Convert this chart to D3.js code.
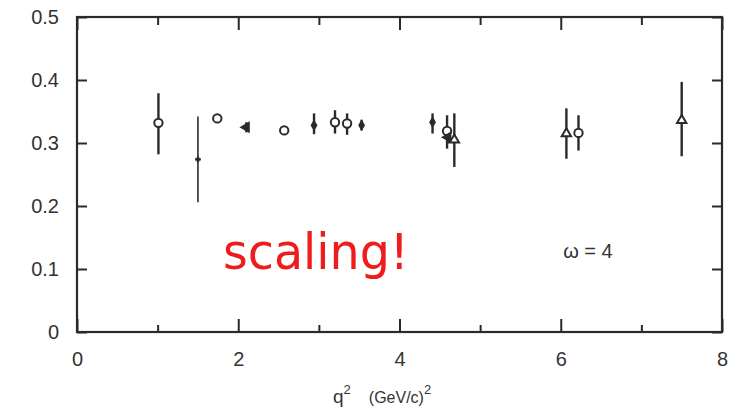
<!DOCTYPE html>
<html>
<head>
<meta charset="utf-8">
<script src="https://cdn.jsdelivr.net/npm/d3@7"></script>
<style>
  body { margin: 0; background: #fff; }
  svg { display: block; }
</style>
</head>
<body>
<div id="chart"></div>
<script>
// data: q^2 (GeV/c)^2 vs ratio, omega = 4
const q2     = [1.01, 1.50, 1.74, 2.10, 2.57, 2.94, 3.20, 3.35, 3.53, 4.41, 4.59, 4.60, 4.68, 6.07, 6.22, 7.50];
const ratio  = [0.332, 0.274, 0.339, 0.325, 0.320, 0.328, 0.333, 0.331, 0.328, 0.333, 0.319, 0.309, 0.305, 0.315, 0.316, 0.336];
const errHi  = [0.379, 0.342, 0.339, 0.333, 0.326, 0.347, 0.352, 0.347, 0.337, 0.347, 0.344, 0.320, 0.347, 0.355, 0.344, 0.397];
const errLo  = [0.282, 0.206, 0.339, 0.317, 0.314, 0.314, 0.315, 0.313, 0.320, 0.315, 0.291, 0.300, 0.262, 0.275, 0.288, 0.279];
const marker = ["circle", "cross", "circle", "filled", "circle", "dot", "circle", "circle", "dot", "dot", "circle", "filled", "triangle", "triangle", "circle", "triangle"];

const xTicks = [0, 2, 4, 6, 8];
const xMinor = [1, 3, 5, 7];
const yTicks = [0, 0.1, 0.2, 0.3, 0.4, 0.5];

function init() {
  const width = 739, height = 415;
  const margin = { top: 17, right: 17, bottom: 83, left: 77 };
  const iw = width - margin.left - margin.right,
        ih = height - margin.top - margin.bottom;

  const svg = d3.select("#chart")
                .append("svg")
                .attr("width", width)
                .attr("height", height)
                .style("font-family", "'Liberation Sans', Arial, sans-serif");

  const g = svg.append("g")
               .attr("transform", `translate(${margin.left},${margin.top})`);

  const x = d3.scaleLinear().domain([0, 8]).range([0, iw]);
  const y = d3.scaleLinear().domain([0, 0.5]).range([ih, 0]);

  const ink = "#2a2a2a";

  // axes, ticks pointing inwards
  const yLabel = d => d === 0 ? "0" : d3.format(".1f")(d);

  const left = g.append("g")
    .call(d3.axisLeft(y).tickValues(yTicks).tickSize(-10).tickPadding(18).tickFormat(yLabel));
  const right = g.append("g").attr("transform", `translate(${iw},0)`)
    .call(d3.axisRight(y).tickValues(yTicks).tickSize(-10).tickFormat(""));
  const bottom = g.append("g").attr("transform", `translate(0,${ih})`)
    .call(d3.axisBottom(x).tickValues(xTicks).tickSize(-13).tickPadding(20).tickFormat(d3.format("d")));
  const bottomMinor = g.append("g").attr("transform", `translate(0,${ih})`)
    .call(d3.axisBottom(x).tickValues(xMinor).tickSize(-7).tickFormat(""));
  const top = g.append("g")
    .call(d3.axisTop(x).tickValues(xTicks).tickSize(-13).tickFormat(""));
  const topMinor = g.append("g")
    .call(d3.axisTop(x).tickValues(xMinor).tickSize(-8).tickFormat(""));

  [left, right, bottom, bottomMinor, top, topMinor].forEach(a => {
    a.select(".domain").remove();
    a.selectAll(".tick line").attr("stroke", ink).attr("stroke-width", 2);
    a.selectAll(".tick text").attr("fill", "#333").style("font-size", "20px");
  });

  // frame
  g.append("rect")
   .attr("x", 0).attr("y", 0)
   .attr("width", iw).attr("height", ih)
   .attr("fill", "none")
   .attr("stroke", ink)
   .attr("stroke-width", 2.2);

  const pts = q2.map((q, i) => ({ q: q, v: ratio[i], hi: errHi[i], lo: errLo[i], m: marker[i] }));

  // error bars
  g.selectAll("line.err")
   .data(pts.filter(d => d.hi > d.lo))
   .enter()
   .append("line")
   .attr("class", "err")
   .attr("x1", d => x(d.q)).attr("x2", d => x(d.q))
   .attr("y1", d => y(d.hi)).attr("y2", d => y(d.lo))
   .attr("stroke", ink)
   .attr("stroke-width", d => d.m === "cross" ? 1.6 : 2.4);

  // markers
  const shape = { circle: d3.symbolCircle, triangle: d3.symbolTriangle, dot: d3.symbolDiamond, filled: d3.symbolTriangle, cross: d3.symbolCross };
  const size  = { circle: 55, triangle: 38, dot: 18, filled: 32, cross: 14 };

  g.selectAll("path.mark")
   .data(pts)
   .enter()
   .append("path")
   .attr("class", "mark")
   .attr("transform", d => `translate(${x(d.q)},${y(d.v)})` + (d.m === "filled" ? " rotate(-90)" : ""))
   .attr("d", d => d3.symbol().type(shape[d.m]).size(size[d.m])())
   .attr("fill", d => (d.m === "circle" || d.m === "triangle") ? "#fff" : ink)
   .attr("stroke", ink)
   .attr("stroke-width", d => d.m === "cross" ? 0.8 : 2);

  // annotations
  g.append("text")
   .attr("x", x(1.81)).attr("y", y(0.1))
   .attr("fill", "#ee1c1c")
   .attr("textLength", 186)
   .attr("lengthAdjust", "spacingAndGlyphs")
   .style("font-family", "'Comic Sans MS', 'DejaVu Sans', sans-serif")
   .style("font-size", "50px")
   .text("scaling!");

  g.append("text")
   .attr("x", x(6.03)).attr("y", y(0.117))
   .attr("fill", "#333")
   .style("font-size", "20px")
   .text("ω = 4");

  // x axis title
  const title = svg.append("text")
    .attr("x", 333).attr("y", 403)
    .attr("fill", "#333");
  title.append("tspan").style("font-size", "19px").text("q");
  title.append("tspan").style("font-size", "13px").attr("dy", -9).text("2");
  title.append("tspan").style("font-size", "16px").attr("dx", 18).attr("dy", 9).text("(GeV/c)");
  title.append("tspan").style("font-size", "13px").attr("dy", -9).text("2");
}

window.onload = init;
</script>
</body>
</html>
